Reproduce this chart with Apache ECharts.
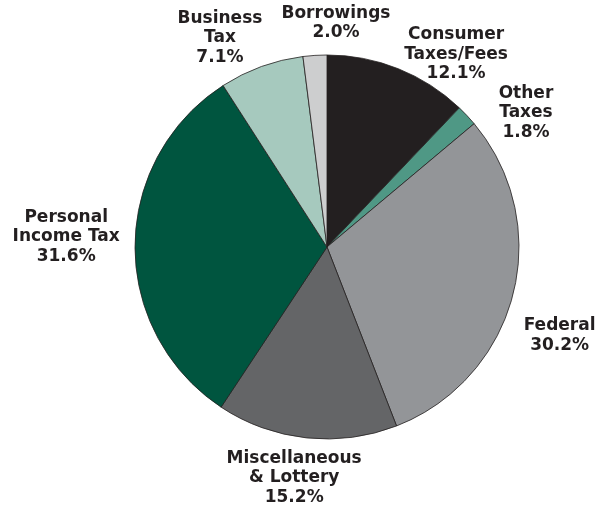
<!DOCTYPE html>
<html>
<head>
<meta charset="utf-8">
<style>
  html, body { margin: 0; padding: 0; background: #ffffff; }
  #chart { width: 606px; height: 506px; }
</style>
<script src="https://cdn.jsdelivr.net/npm/echarts@6/dist/echarts.min.js"></script>
</head>
<body>
<div id="chart"></div>
<script>
// Data
const categories = [
  'Consumer\nTaxes/Fees',
  'Other\nTaxes',
  'Federal',
  'Miscellaneous\n& Lottery',
  'Personal\nIncome Tax',
  'Business\nTax',
  'Borrowings'
];
const shares = [12.1, 1.8, 30.2, 15.2, 31.6, 7.1, 2.0];

// Styles
const sliceColors = ['#231f20', '#4f9885', '#939598', '#646567', '#00553f', '#a6c9be', '#cdcecf'];
// label placement: [angle clockwise from 12 o'clock (deg), distance from pie centre (px)]
const labelPlacement = [[33.8, 232], [56.0, 240], [110.9, 249], [188.1, 233], [272.2, 261], [332.9, 235], [2.3, 224]];
const pieCenter = [327, 247];
const pieRadius = 192;

const chart = echarts.init(document.getElementById('chart'), null, { renderer: 'canvas' });
chart.setOption({
  backgroundColor: '#ffffff',
  animation: false,
  series: [{
    type: 'pie',
    center: pieCenter,
    radius: pieRadius,
    startAngle: 90,
    clockwise: true,
    avoidLabelOverlap: false,
    data: categories.map((c, i) => ({
      name: c,
      value: shares[i],
      itemStyle: { color: sliceColors[i] }
    })),
    itemStyle: { borderColor: '#231f20', borderWidth: 0.8 },
    emphasis: { disabled: true },
    label: {
      show: true,
      position: 'outside',
      formatter: p => p.name + '\n' + p.value.toFixed(1) + '%',
      fontFamily: 'DejaVu Sans',
      fontWeight: 'bold',
      fontSize: 17,
      lineHeight: 19.5,
      color: '#231f20',
      align: 'center'
    },
    labelLine: { show: false },
    labelLayout: function (params) {
      const pl = labelPlacement[params.dataIndex];
      const a = pl[0] * Math.PI / 180;
      return {
        x: pieCenter[0] + pl[1] * Math.sin(a),
        y: pieCenter[1] - pl[1] * Math.cos(a),
        align: 'center',
        verticalAlign: 'middle'
      };
    }
  }]
});
</script>
</body>
</html>
